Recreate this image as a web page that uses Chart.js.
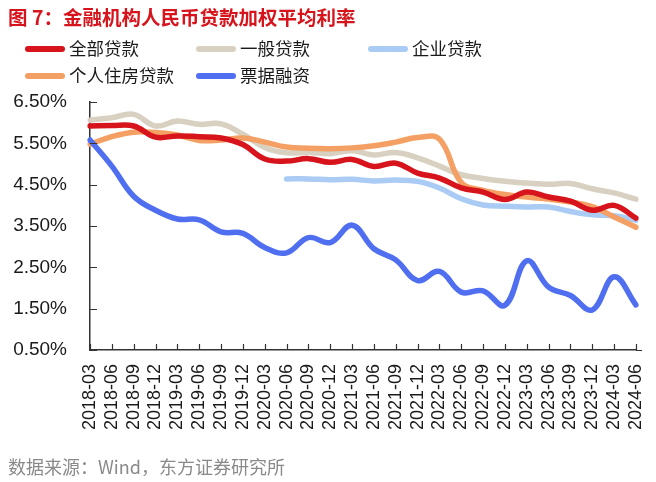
<!DOCTYPE html>
<html>
<head>
<meta charset="utf-8">
<script src="https://cdn.jsdelivr.net/npm/chart.js@4.4.1/dist/chart.umd.min.js"></script>
<style>
    body { margin: 0; background: #fff; }
    #wrap { position: relative; width: 656px; height: 482px; overflow: hidden; }
    #chart { position: absolute; left: 0; top: 0; }
    .title { position: absolute; left: 8px; top: 2px; font: bold 19.5px "Noto Sans CJK SC", sans-serif; color: #d7141c; white-space: nowrap; }
    .leg { position: absolute; font: 17.5px "Noto Sans CJK SC", sans-serif; color: #1a1a1a; white-space: nowrap; line-height: 20px; }
    .leg i { display: inline-block; width: 40px; height: 6px; border-radius: 3px; vertical-align: middle; margin-right: 4px; position: relative; top: -1px; }
    .source { position: absolute; left: 8px; top: 453px; font: 18px "Noto Sans CJK SC", sans-serif; color: #8a8a8a; white-space: nowrap; }
</style>
</head>
<body>
<div id="wrap">
    <canvas id="chart" width="656" height="482"></canvas>
    <div class="title">图 7：金融机构人民币贷款加权平均利率</div>
    <div id="legend"></div>
    <div class="source">数据来源：Wind，东方证券研究所</div>
</div>
<script>
    // 季度
    const quarters = ['2018-03','2018-06','2018-09','2018-12','2019-03','2019-06','2019-09','2019-12',
        '2020-03','2020-06','2020-09','2020-12','2021-03','2021-06','2021-09','2021-12',
        '2022-03','2022-06','2022-09','2022-12','2023-03','2023-06','2023-09','2023-12','2024-03','2024-06'];

    // 各序列 (%)
    const allLoans = [5.92,5.93,5.92,5.65,5.68,5.66,5.63,5.47,5.12,5.07,5.13,5.04,5.11,4.94,5.02,4.78,
        4.66,4.42,4.32,4.14,4.32,4.20,4.10,3.88,4.00,3.69];
    const generalLoans = [6.06,6.12,6.20,5.92,6.04,5.96,5.97,5.72,5.40,5.27,5.28,5.25,5.32,5.22,5.28,5.15,
        4.95,4.74,4.65,4.58,4.54,4.51,4.53,4.40,4.30,4.15];
    const corpLoans = [null,null,null,null,null,null,null,null,null,4.64,4.64,4.62,4.63,4.59,4.61,4.58,
        4.42,4.16,4.01,3.98,3.96,3.96,3.85,3.77,3.75,3.64];
    const mortgage = [5.48,5.66,5.77,5.76,5.70,5.57,5.58,5.63,5.53,5.41,5.38,5.37,5.39,5.44,5.53,5.64,
        5.60,4.55,4.36,4.26,4.20,4.15,4.08,3.97,3.72,3.47];
    const billFinance = [5.58,4.95,4.22,3.88,3.67,3.65,3.36,3.32,2.98,2.85,3.22,3.10,3.52,2.95,2.68,2.18,
        2.40,1.90,1.93,1.58,2.66,2.02,1.82,1.47,2.27,1.59];

    const yTicks = [0.5,1.5,2.5,3.5,4.5,5.5,6.5];

    // 图例与颜色
    const series = [
        { name: '全部贷款', data: allLoans, color: '#d7141c', order: 2, lx: 25, ly: 38 },
        { name: '一般贷款', data: generalLoans, color: '#d8d0c0', order: 5, lx: 196, ly: 38 },
        { name: '企业贷款', data: corpLoans, color: '#a9cbf4', order: 4, lx: 368, ly: 38 },
        { name: '个人住房贷款', data: mortgage, color: '#f4a064', order: 3, lx: 25, ly: 65 },
        { name: '票据融资', data: billFinance, color: '#4f6ff0', order: 1, lx: 196, ly: 65 }
    ];

    const legend = document.getElementById('legend');
    series.forEach(s => {
        const d = document.createElement('div');
        d.className = 'leg';
        d.style.left = s.lx + 'px';
        d.style.top = s.ly + 'px';
        d.innerHTML = `<i style="background:${s.color}"></i>${s.name}`;
        legend.appendChild(d);
    });

    // 刻度线朝内
    const innerTicks = {
        id: 'innerTicks',
        afterDatasetsDraw(chart) {
            const { ctx, chartArea, scales } = chart;
            ctx.save();
            ctx.strokeStyle = '#333';
            ctx.lineWidth = 1.2;
            ctx.beginPath();
            scales.y.ticks.forEach((t, i) => {
                const y = Math.round(scales.y.getPixelForTick(i)) + 0.5;
                ctx.moveTo(chartArea.left, y);
                ctx.lineTo(chartArea.left + 7, y);
            });
            scales.x.ticks.forEach((t, i) => {
                const x = Math.round(scales.x.getPixelForTick(i)) + 0.5;
                ctx.moveTo(x, chartArea.bottom);
                ctx.lineTo(x, chartArea.bottom - 6);
            });
            // 横轴略微延长
            ctx.moveTo(chartArea.right, chartArea.bottom + 0.5);
            ctx.lineTo(chartArea.right + 6, chartArea.bottom + 0.5);
            ctx.stroke();
            ctx.restore();
        }
    };

    new Chart(document.getElementById('chart').getContext('2d'), {
        type: 'line',
        data: {
            labels: quarters,
            datasets: series.map(s => ({
                label: s.name,
                data: s.data,
                borderColor: s.color,
                backgroundColor: s.color,
                borderWidth: 5.5,
                pointRadius: 0,
                tension: 0.4,
                borderCapStyle: 'round',
                borderJoinStyle: 'round',
                order: s.order,
                spanGaps: false
            }))
        },
        options: {
            responsive: false,
            animation: false,
            layout: { padding: { top: 102, right: 20, left: 0, bottom: 0 } },
            plugins: { legend: { display: false }, tooltip: { enabled: false } },
            scales: {
                x: {
                    offset: false,
                    grid: { display: false },
                    border: { display: true, color: '#333', width: 1.5 },
                    ticks: {
                        autoSkip: false, maxRotation: 90, minRotation: 90, padding: 6,
                        color: '#1a1a1a', font: { family: 'Liberation Sans', size: 18 }
                    },
                    afterFit(scale) {
                        scale.height = 132;
                        scale.paddingLeft = 0;
                        scale.paddingRight = 0;
                    }
                },
                y: {
                    min: 0.5, max: 6.5,
                    afterBuildTicks(scale) { scale.ticks = yTicks.map(v => ({ value: v })); },
                    grid: { display: false },
                    border: { display: true, color: '#333', width: 1.5 },
                    ticks: {
                        padding: 15, color: '#1a1a1a', font: { family: 'Liberation Sans', size: 19 },
                        callback: v => v.toFixed(2) + '%'
                    },
                    afterFit(scale) { scale.width = 90; }
                }
            }
        },
        plugins: [innerTicks]
    });
</script>
</body>
</html>
